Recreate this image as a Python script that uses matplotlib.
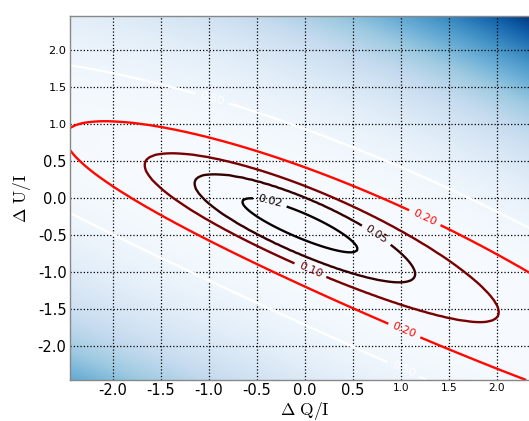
import numpy as np
import matplotlib
matplotlib.use("Agg")
import matplotlib.pyplot as plt
from matplotlib.colors import PowerNorm

# ---- data ----
levels = [0.02, 0.05, 0.10, 0.20, 0.50]          # contour levels
center_x = [-0.05, 0.0, 0.175, 0.8, 1.3]          # horizontal centre of each contour
half_len = [0.60, 1.15, 1.845, 3.3, 5.5]          # horizontal half-extent of each contour
half_wid = [0.18, 0.40, 0.555, 0.83, 1.36]        # vertical half-width at the centre
ridge_x = [-2.0, -1.0, 0.0, 1.0, 2.0]             # ridge (middle line of the contours)
ridge_y = [0.60, 0.125, -0.39, -0.935, -1.53]
xticks = [-2.0, -1.5, -1.0, -0.5, 0.0, 0.5, 1.0, 1.5, 2.0]
yticks = [-2.0, -1.5, -1.0, -0.5, 0.0, 0.5, 1.0, 1.5, 2.0]
label_pos = [(-0.36, -0.04), (0.73, -0.53), (0.05, -1.0), (1.23, -0.32),
             (1.04, -1.78), (-0.97, 1.32), (0.99, -2.42)]

plt.rcParams["mathtext.fontset"] = "cm"
plt.rcParams["axes.unicode_minus"] = False

lg = np.log(levels)
ridge = np.poly1d(np.polyfit(ridge_x, ridge_y, 2))


def loglog(L, vals):
    lv = np.log(vals)
    x = np.log(L)
    if x < lg[0]:
        s = (lv[1] - lv[0]) / (lg[1] - lg[0])
        return np.exp(lv[0] + s * (x - lg[0]))
    if x > lg[-1]:
        s = (lv[-1] - lv[-2]) / (lg[-1] - lg[-2])
        return np.exp(lv[-1] + s * (x - lg[-1]))
    return np.exp(np.interp(x, lg, lv))


def field(X, Y):
    V = Y - ridge(X)
    Ls = np.exp(np.linspace(np.log(0.003), np.log(30), 700))
    out = np.full(X.shape, Ls[-1])
    done = np.zeros(X.shape, bool)
    prev = None
    for k, L in enumerate(Ls):
        cx = np.interp(np.log(L), lg, center_x)
        a = loglog(L, half_len)
        h = loglog(L, half_wid)
        rho = np.log(((X - cx) / a) ** 2 + (V / h) ** 2 + 1e-300)
        hit = (rho <= 0) & ~done
        if prev is None:
            out[hit] = L
        else:
            t = prev[hit] / (prev[hit] - rho[hit] + 1e-12)
            out[hit] = np.exp(np.log(Ls[k - 1]) + t * (np.log(L) - np.log(Ls[k - 1])))
        done |= hit
        prev = rho
    return out


xg = np.linspace(-2.445, 2.445, 161)
yg = np.linspace(-2.455, 2.46, 161)
X, Y = np.meshgrid(xg, yg)
F = field(X, Y)

fig = plt.figure(figsize=(5.29, 4.21), dpi=100)
ax = fig.add_axes([70 / 529, 41 / 421, 0.8873, 364 / 421])

ax.imshow(F, extent=[xg[0], xg[-1], yg[0], yg[-1]], origin="lower",
          cmap="Blues", norm=PowerNorm(gamma=1.5, vmin=0, vmax=F.max() * 1.0),
          aspect="auto", interpolation="bilinear")
cs = ax.contour(X, Y, F, levels=levels, cmap="hot", vmin=levels[0],
                vmax=levels[-1], linewidths=1.7)
ax.clabel(cs, fmt="%.2f", fontsize=8, inline=True, manual=label_pos)

ax.set_xlim(-2.445, 2.445)
ax.set_ylim(-2.455, 2.46)
ax.set_xticks(xticks)
ax.set_yticks(yticks)
ax.set_xticklabels(["%.1f" % v for v in xticks])
ax.set_yticklabels(["%.1f" % v for v in yticks])
for v, t in zip(xticks, ax.get_xticklabels()):
    t.set_fontsize(7.5 if v >= 1.0 else 10.5)
for v, t in zip(yticks, ax.get_yticklabels()):
    t.set_fontsize(8.2 if v >= 1.0 else 10.5)
ax.tick_params(length=0, pad=2.5)
ax.grid(True, color="black", linestyle=":", linewidth=0.9)
for s in ax.spines.values():
    s.set_color("#888888")
    s.set_linewidth(1.0)

ax.set_xlabel(r"$\Delta\ \mathrm{Q/I}$", fontsize=12.5, labelpad=1)
ax.set_ylabel(r"$\Delta\ \mathrm{U/I}$", fontsize=12.5, labelpad=3)

fig.savefig("out.png", dpi=100)
